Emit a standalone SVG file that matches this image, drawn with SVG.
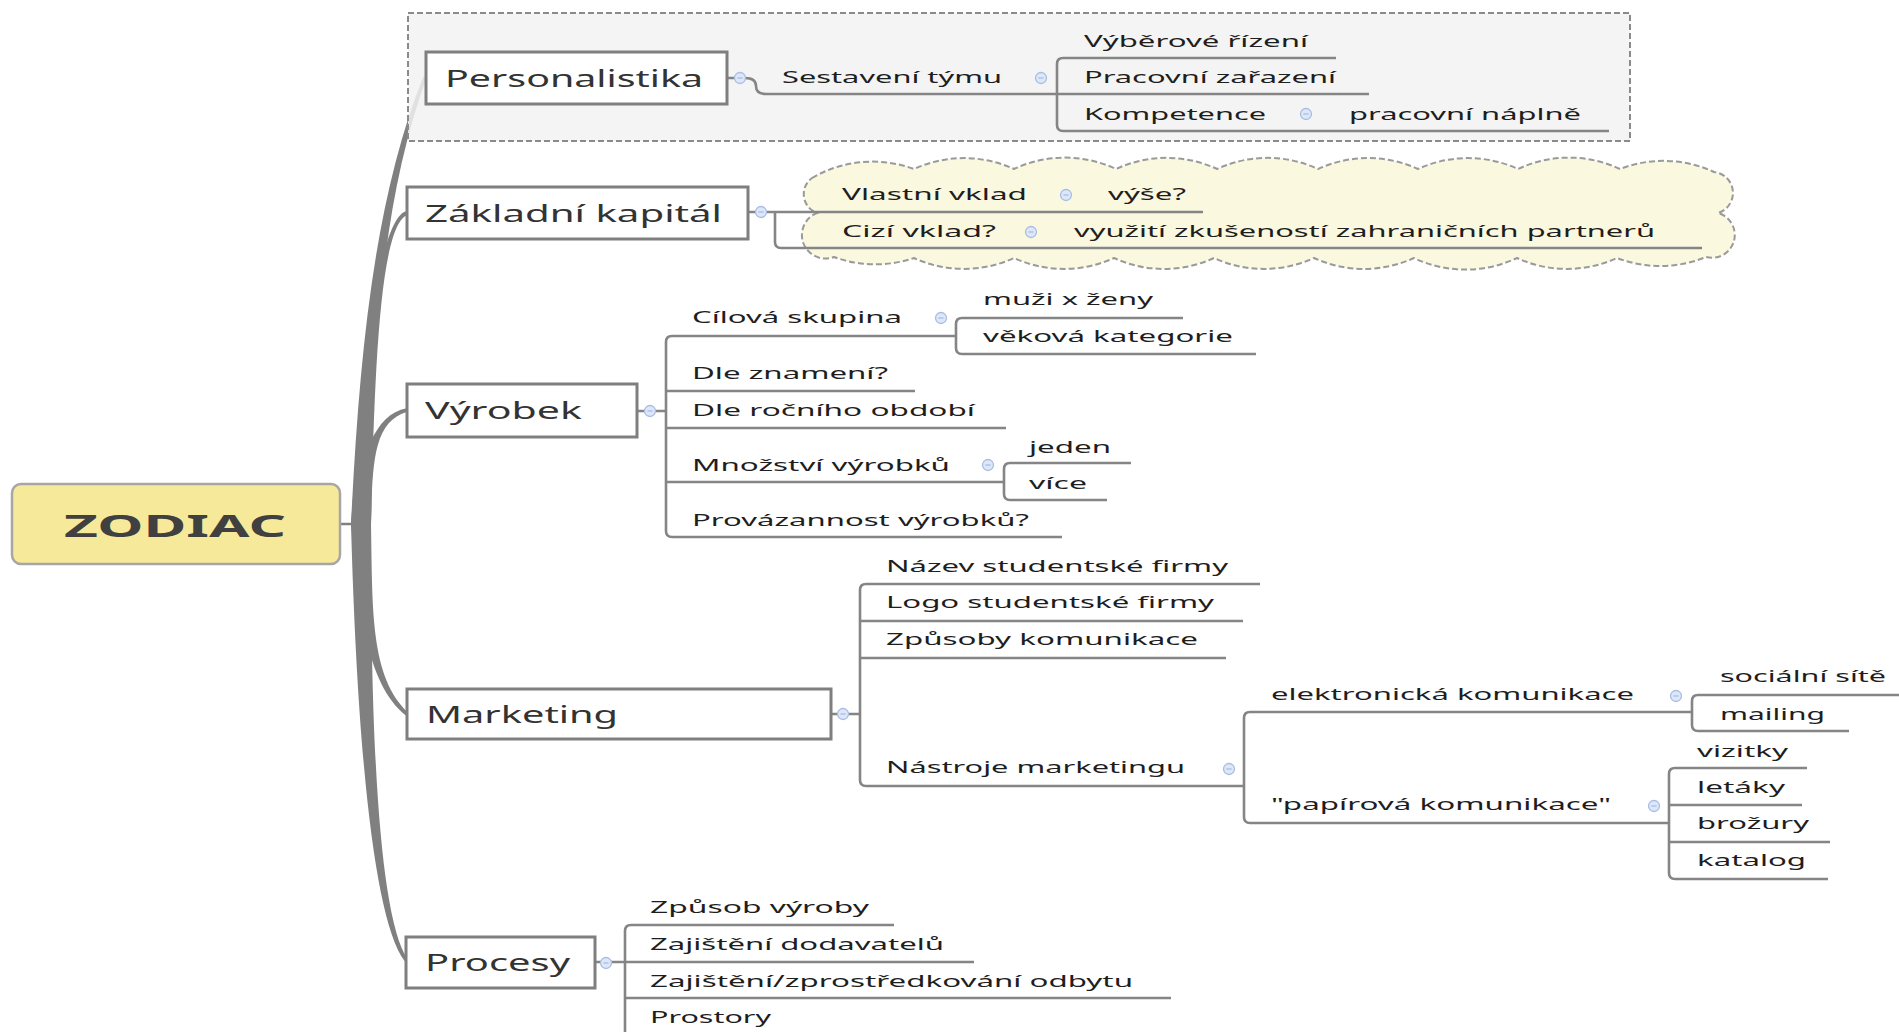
<svg xmlns="http://www.w3.org/2000/svg" width="1899" height="1032" viewBox="0 0 1899 1032">
  <style>
    .box { fill: #ffffff; stroke: #7f7f7f; stroke-width: 3; }
    .root { fill: #f7e99a; stroke: #a6a6a6; stroke-width: 2.5; }
    .branch { fill: #808080; }
    .ln { fill: none; stroke: #858585; stroke-width: 2.6; }
    .t-main { font-family: "Noto Sans", "Open Sans", "DejaVu Sans", sans-serif; font-size: 24px; fill: #333333; }
    .t-root { font-family: "Noto Sans", "Open Sans", "DejaVu Sans", sans-serif; font-size: 31px; font-weight: bold; fill: #404040; }
    .t { font-family: "Noto Sans", "Open Sans", "DejaVu Sans", sans-serif; font-size: 17px; fill: #1e1e1e; }
    .boundary { fill: #f2f2f2; fill-opacity: 0.85; stroke: #8a8a8a; stroke-width: 2; stroke-dasharray: 6 3; }
    .cloud { fill: #fbf8e0; stroke: #9a9a9a; stroke-width: 2; stroke-dasharray: 6 3; }
    .tog circle { fill: #dde7f8; stroke: #a7bde6; stroke-width: 1.3; }
    .tog line { stroke: #a7bde6; stroke-width: 1.3; }
  </style>
  <defs>
    <g id="tog" class="tog">
      <circle r="5.5"/>
      <line x1="-2.6" y1="0" x2="2.6" y2="0"/>
    </g>
  </defs>

  <rect width="1899" height="1032" fill="#ffffff"/>

  <!-- tapered main branches from the central topic -->
  <g id="branches">
    <line x1="340" y1="524" x2="354" y2="524" stroke="#808080" stroke-width="2.5"/>
    <path class="branch" d="M351 524 C359.5 350 374.7 198.8 423.3 76.4 L426.7 77.6 C381.3 201.2 372.5 350 371 524 Z"/>
    <path class="branch" d="M351 524 C361.5 380 377 219.4 406.4 211.1 L407.6 214.9 C379 224.6 374.5 380 371 524 Z"/>
    <path class="branch" d="M351 524 C359.5 465 371.2 414.6 406.6 408.2 L407.4 411.8 C372.8 421.4 372.5 465 371 524 Z"/>
    <path class="branch" d="M351 524 C359.5 610 365.7 682.6 405.8 715.4 L408.2 712.6 C370.3 677.4 372.5 610 371 524 Z"/>
    <path class="branch" d="M351 524 C357.5 760 375.1 922 404.6 961 L407.4 959 C380.9 918 370.5 760 371 524 Z"/>
  </g>

  <!-- boundary and cloud backgrounds -->
  <rect id="boundary-personalistika" class="boundary" x="408" y="13" width="1222" height="128"/>
  <path id="cloud-kapital" class="cloud" d="M812 178 A120 120 0 0 1 914 169 A120 120 0 0 1 1014 169 A120 120 0 0 1 1116 169 A120 120 0 0 1 1217 169 A120 120 0 0 1 1318 169 A120 120 0 0 1 1418 169 A120 120 0 0 1 1518 169 A120 120 0 0 1 1620 169 A120 120 0 0 1 1714 172 A21 21 0 0 1 1718 213 A22 22 0 0 1 1706 257 A120 120 0 0 1 1617 258 A120 120 0 0 1 1517 258 A120 120 0 0 1 1414 258 A120 120 0 0 1 1314 258 A120 120 0 0 1 1214 258 A120 120 0 0 1 1114 258 A120 120 0 0 1 1014 258 A120 120 0 0 1 914 258 A120 120 0 0 1 834 257 A22 22 0 0 1 817 213 A20 20 0 0 1 812 178 Z"/>

  <!-- sub-topic connectors and underlines -->
  <g id="connectors">
    <!-- Personalistika -->
    <path class="ln" d="M727 78 H736 M745 78 Q756 78 756 86 Q756 94 766 94 H1057"/>
    <path class="ln" d="M1336 58 H1063 Q1057 58 1057 64 V125 Q1057 131 1063 131 H1609"/>
    <path class="ln" d="M1057 94 H1369"/>
    <!-- Základní kapitál -->
    <path class="ln" d="M748 212 H756 M767 212 H1203"/>
    <path class="ln" d="M775 212 V242 Q775 248 781 248 H1702"/>
    <!-- Výrobek -->
    <path class="ln" d="M637 411 H645 M655 411 H666"/>
    <path class="ln" d="M955 336 H672 Q666 336 666 342 V531 Q666 537 672 537 H1062"/>
    <path class="ln" d="M666 391 H915 M666 428 H1006 M666 482 H1004"/>
    <path class="ln" d="M1183 318 H962 Q956 318 956 324 V348 Q956 354 962 354 H1256"/>
    <path class="ln" d="M1131 463 H1010 Q1004 463 1004 469 V494 Q1004 500 1010 500 H1107"/>
    <!-- Marketing -->
    <path class="ln" d="M831 714 H838 M848 714 H860"/>
    <path class="ln" d="M1260 584 H866 Q860 584 860 590 V780 Q860 786 866 786 H1244"/>
    <path class="ln" d="M860 621 H1243 M860 658 H1226"/>
    <path class="ln" d="M1692 712 H1250 Q1244 712 1244 718 V817 Q1244 823 1250 823 H1669"/>
    <path class="ln" d="M1899 695 H1698 Q1692 695 1692 701 V725 Q1692 731 1698 731 H1849"/>
    <path class="ln" d="M1807 768 H1675 Q1669 768 1669 774 V873 Q1669 879 1675 879 H1828"/>
    <path class="ln" d="M1669 805 H1802 M1669 842 H1830"/>
    <!-- Procesy -->
    <path class="ln" d="M595 962 H601 M611 962 H625"/>
    <path class="ln" d="M894 925 H631 Q625 925 625 931 V1040"/>
    <path class="ln" d="M625 962 H974 M625 998 H1171 M625 1035 H800"/>
  </g>

  <!-- central topic -->
  <g id="node-zodiac">
    <rect class="root" x="12" y="484" width="328" height="80" rx="9"/>
    <text class="t-root" x="64" y="537" textLength="222" lengthAdjust="spacingAndGlyphs">ZODIAC</text>
  </g>

  <!-- Personalistika -->
  <g id="node-personalistika">
    <rect class="box" x="426" y="52" width="301" height="52"/>
    <text class="t-main" x="445" y="87" textLength="258" lengthAdjust="spacingAndGlyphs">Personalistika</text>
    <use href="#tog" x="740" y="78"/>
  </g>
  <g id="node-sestaveni-tymu">
    <text class="t" x="782" y="83" textLength="220" lengthAdjust="spacingAndGlyphs">Sestavení týmu</text>
    <use href="#tog" x="1041" y="78"/>
  </g>
  <g id="node-vyberove-rizeni"><text class="t" x="1084" y="47" textLength="224" lengthAdjust="spacingAndGlyphs">Výběrové řízení</text></g>
  <g id="node-pracovni-zarazeni"><text class="t" x="1084" y="83" textLength="252" lengthAdjust="spacingAndGlyphs">Pracovní zařazení</text></g>
  <g id="node-kompetence">
    <text class="t" x="1084" y="120" textLength="182" lengthAdjust="spacingAndGlyphs">Kompetence</text>
    <use href="#tog" x="1306" y="114"/>
  </g>
  <g id="node-pracovni-naplne"><text class="t" x="1349" y="120" textLength="232" lengthAdjust="spacingAndGlyphs">pracovní náplně</text></g>

  <!-- Základní kapitál -->
  <g id="node-zakladni-kapital">
    <rect class="box" x="407" y="187" width="341" height="52"/>
    <text class="t-main" x="425" y="222" textLength="297" lengthAdjust="spacingAndGlyphs">Základní kapitál</text>
    <use href="#tog" x="761" y="212"/>
  </g>
  <g id="node-vlastni-vklad">
    <text class="t" x="842" y="200" textLength="185" lengthAdjust="spacingAndGlyphs">Vlastní vklad</text>
    <use href="#tog" x="1066" y="195"/>
  </g>
  <g id="node-vyse"><text class="t" x="1108" y="200" textLength="78" lengthAdjust="spacingAndGlyphs">výše?</text></g>
  <g id="node-cizi-vklad">
    <text class="t" x="842" y="237" textLength="154" lengthAdjust="spacingAndGlyphs">Cizí vklad?</text>
    <use href="#tog" x="1031" y="232"/>
  </g>
  <g id="node-vyuziti"><text class="t" x="1074" y="237" textLength="581" lengthAdjust="spacingAndGlyphs">využití zkušeností zahraničních partnerů</text></g>

  <!-- Výrobek -->
  <g id="node-vyrobek">
    <rect class="box" x="407" y="384" width="230" height="53"/>
    <text class="t-main" x="425" y="419" textLength="157" lengthAdjust="spacingAndGlyphs">Výrobek</text>
    <use href="#tog" x="650" y="411"/>
  </g>
  <g id="node-cilova-skupina">
    <text class="t" x="692" y="323" textLength="210" lengthAdjust="spacingAndGlyphs">Cílová skupina</text>
    <use href="#tog" x="941" y="318"/>
  </g>
  <g id="node-muzi-zeny"><text class="t" x="983" y="305" textLength="170" lengthAdjust="spacingAndGlyphs">muži x ženy</text></g>
  <g id="node-vekova-kategorie"><text class="t" x="983" y="342" textLength="250" lengthAdjust="spacingAndGlyphs">věková kategorie</text></g>
  <g id="node-dle-znameni"><text class="t" x="692" y="379" textLength="196" lengthAdjust="spacingAndGlyphs">Dle znamení?</text></g>
  <g id="node-dle-rocniho-obdobi"><text class="t" x="692" y="416" textLength="283" lengthAdjust="spacingAndGlyphs">Dle ročního období</text></g>
  <g id="node-mnozstvi-vyrobku">
    <text class="t" x="692" y="471" textLength="258" lengthAdjust="spacingAndGlyphs">Množství výrobků</text>
    <use href="#tog" x="988" y="465"/>
  </g>
  <g id="node-jeden"><text class="t" x="1029" y="453" textLength="82" lengthAdjust="spacingAndGlyphs">jeden</text></g>
  <g id="node-vice"><text class="t" x="1029" y="489" textLength="58" lengthAdjust="spacingAndGlyphs">více</text></g>
  <g id="node-provazannost"><text class="t" x="692" y="526" textLength="337" lengthAdjust="spacingAndGlyphs">Provázannost výrobků?</text></g>

  <!-- Marketing -->
  <g id="node-marketing">
    <rect class="box" x="407" y="689" width="424" height="50"/>
    <text class="t-main" x="426" y="723" textLength="192" lengthAdjust="spacingAndGlyphs">Marketing</text>
    <use href="#tog" x="843" y="714"/>
  </g>
  <g id="node-nazev"><text class="t" x="886" y="572" textLength="342" lengthAdjust="spacingAndGlyphs">Název studentské firmy</text></g>
  <g id="node-logo"><text class="t" x="886" y="608" textLength="328" lengthAdjust="spacingAndGlyphs">Logo studentské firmy</text></g>
  <g id="node-zpusoby-komunikace"><text class="t" x="886" y="645" textLength="312" lengthAdjust="spacingAndGlyphs">Způsoby komunikace</text></g>
  <g id="node-nastroje-marketingu">
    <text class="t" x="886" y="773" textLength="299" lengthAdjust="spacingAndGlyphs">Nástroje marketingu</text>
    <use href="#tog" x="1229" y="769"/>
  </g>
  <g id="node-elektronicka">
    <text class="t" x="1271" y="700" textLength="363" lengthAdjust="spacingAndGlyphs">elektronická komunikace</text>
    <use href="#tog" x="1676" y="696"/>
  </g>
  <g id="node-socialni-site"><text class="t" x="1720" y="682" textLength="166" lengthAdjust="spacingAndGlyphs">sociální sítě</text></g>
  <g id="node-mailing"><text class="t" x="1720" y="720" textLength="105" lengthAdjust="spacingAndGlyphs">mailing</text></g>
  <g id="node-papirova">
    <text class="t" x="1271" y="810" textLength="340" lengthAdjust="spacingAndGlyphs">"papírová komunikace"</text>
    <use href="#tog" x="1654" y="806"/>
  </g>
  <g id="node-vizitky"><text class="t" x="1697" y="757" textLength="91" lengthAdjust="spacingAndGlyphs">vizitky</text></g>
  <g id="node-letaky"><text class="t" x="1697" y="793" textLength="88" lengthAdjust="spacingAndGlyphs">letáky</text></g>
  <g id="node-brozury"><text class="t" x="1697" y="829" textLength="112" lengthAdjust="spacingAndGlyphs">brožury</text></g>
  <g id="node-katalog"><text class="t" x="1697" y="866" textLength="109" lengthAdjust="spacingAndGlyphs">katalog</text></g>

  <!-- Procesy -->
  <g id="node-procesy">
    <rect class="box" x="406" y="937" width="189" height="51"/>
    <text class="t-main" x="425" y="971" textLength="145" lengthAdjust="spacingAndGlyphs">Procesy</text>
    <use href="#tog" x="606" y="963"/>
  </g>
  <g id="node-zpusob-vyroby"><text class="t" x="650" y="913" textLength="219" lengthAdjust="spacingAndGlyphs">Způsob výroby</text></g>
  <g id="node-dodavatele"><text class="t" x="650" y="950" textLength="294" lengthAdjust="spacingAndGlyphs">Zajištění dodavatelů</text></g>
  <g id="node-odbyt"><text class="t" x="650" y="987" textLength="483" lengthAdjust="spacingAndGlyphs">Zajištění/zprostředkování odbytu</text></g>
  <g id="node-prostory"><text class="t" x="650" y="1023" textLength="121" lengthAdjust="spacingAndGlyphs">Prostory</text></g>
</svg>
